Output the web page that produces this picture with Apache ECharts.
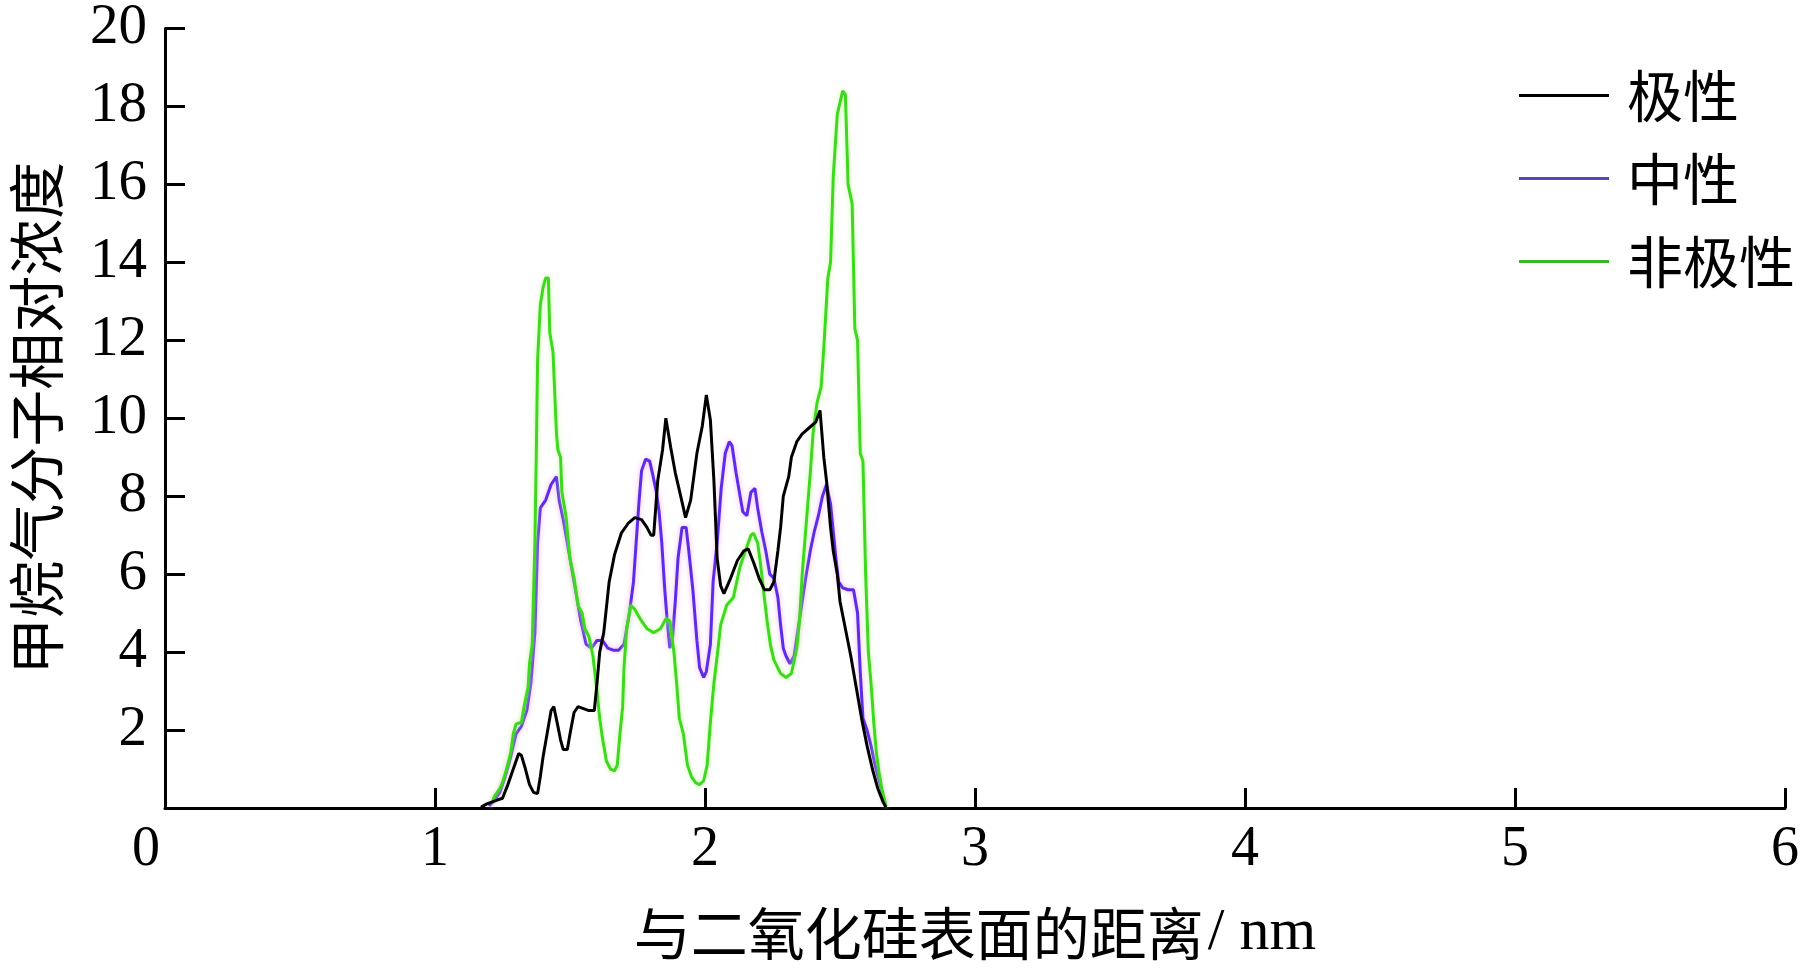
<!DOCTYPE html>
<html>
<head>
<meta charset="utf-8">
<script src="https://cdn.jsdelivr.net/npm/echarts@6/dist/echarts.min.js"></script>
<style>
html,body{margin:0;padding:0;background:#fff;}
#c{width:1802px;height:970px;}
</style>
</head>
<body>
<div id="c"></div>
<script>
// ---- data ----
const seriesNames = ['极性', '中性', '非极性'];
const xTicks = [0, 1, 2, 3, 4, 5, 6];
const yTicks = [2, 4, 6, 8, 10, 12, 14, 16, 18, 20];

const polarData = [
  [1.17,0.02],[1.19,0.1],[1.21,0.15],[1.23,0.2],[1.25,0.25],[1.27,0.6],[1.29,1.0],[1.31,1.4],
  [1.32,1.35],[1.335,1.0],[1.35,0.6],[1.365,0.4],[1.38,0.37],[1.39,0.8],[1.40,1.3],[1.415,1.9],
  [1.43,2.5],[1.44,2.6],[1.455,2.1],[1.465,1.75],[1.475,1.5],[1.49,1.5],[1.50,1.9],[1.515,2.45],
  [1.53,2.6],[1.55,2.55],[1.57,2.5],[1.59,2.5],[1.60,3.2],[1.61,4.0],[1.625,4.5],[1.645,5.8],
  [1.665,6.5],[1.69,7.05],[1.715,7.3],[1.74,7.45],[1.765,7.4],[1.785,7.2],[1.80,7.0],[1.81,7.0],
  [1.825,8.4],[1.843,9.2],[1.855,10.0],[1.873,9.25],[1.89,8.6],[1.91,8.0],[1.928,7.45],[1.947,7.9],
  [1.97,9.1],[1.99,9.8],[2.005,10.6],[2.02,9.95],[2.033,8.4],[2.045,6.4],[2.058,5.7],[2.07,5.5],
  [2.095,5.9],[2.12,6.35],[2.144,6.6],[2.16,6.65],[2.18,6.3],[2.20,5.9],[2.22,5.6],[2.24,5.6],
  [2.255,5.8],[2.27,6.6],[2.28,7.2],[2.29,8.0],[2.31,8.5],[2.32,9.0],[2.34,9.4],[2.36,9.6],
  [2.385,9.75],[2.41,9.9],[2.426,10.2],[2.44,9.0],[2.45,8.4],[2.465,7.2],[2.475,6.6],[2.49,6.0],
  [2.50,5.3],[2.52,4.6],[2.54,3.9],[2.56,3.1],[2.58,2.3],[2.60,1.6],[2.62,1.0],[2.64,0.5],
  [2.66,0.15],[2.67,0.02]
];

const neutralData = [
  [1.20,0.05],[1.22,0.2],[1.24,0.4],[1.26,0.8],[1.28,1.3],[1.30,1.9],[1.32,2.1],[1.34,2.5],
  [1.355,3.2],[1.37,4.5],[1.38,6.8],[1.39,7.7],[1.41,7.9],[1.43,8.3],[1.45,8.5],[1.46,7.9],
  [1.475,7.4],[1.49,6.8],[1.51,6.0],[1.52,5.6],[1.54,4.8],[1.56,4.2],[1.58,4.1],[1.60,4.3],
  [1.62,4.3],[1.64,4.1],[1.66,4.05],[1.68,4.05],[1.70,4.2],[1.72,5.0],[1.735,5.8],[1.745,6.8],
  [1.755,7.8],[1.765,8.65],[1.78,8.95],[1.795,8.9],[1.805,8.6],[1.82,8.1],[1.83,7.6],[1.84,6.8],
  [1.85,5.7],[1.86,4.8],[1.87,4.1],[1.88,4.4],[1.89,5.3],[1.90,6.4],[1.915,7.2],[1.93,7.2],
  [1.94,6.6],[1.955,5.6],[1.97,4.3],[1.98,3.6],[1.995,3.35],[2.005,3.5],[2.02,4.2],[2.03,5.8],
  [2.045,6.8],[2.06,8.2],[2.075,9.1],[2.09,9.4],[2.10,9.3],[2.115,8.6],[2.13,8.0],[2.14,7.6],
  [2.155,7.5],[2.17,8.1],[2.185,8.2],[2.195,7.7],[2.21,7.1],[2.225,6.6],[2.24,6.0],[2.255,5.9],
  [2.27,5.4],[2.28,4.7],[2.29,4.1],[2.30,3.9],[2.315,3.7],[2.33,3.9],[2.345,4.6],[2.36,5.3],
  [2.375,6.0],[2.39,6.6],[2.405,7.1],[2.42,7.5],[2.435,8.0],[2.45,8.3],[2.465,7.8],[2.475,7.1],
  [2.485,6.4],[2.495,5.8],[2.51,5.65],[2.53,5.6],[2.55,5.6],[2.565,5.0],[2.575,3.5],[2.585,2.3],
  [2.60,2.0],[2.615,1.6],[2.63,1.1],[2.645,0.7],[2.66,0.3],[2.67,0.05]
];

const nonpolarData = [
  [1.21,0.1],[1.22,0.3],[1.24,0.5],[1.25,0.65],[1.265,1.0],[1.28,1.4],[1.29,1.9],[1.30,2.15],
  [1.32,2.2],[1.33,2.6],[1.345,3.1],[1.35,3.7],[1.36,4.2],[1.37,6.8],[1.375,9.0],[1.38,11.5],
  [1.39,12.9],[1.40,13.35],[1.41,13.6],[1.42,13.6],[1.425,12.2],[1.437,11.7],[1.45,9.6],[1.455,9.2],
  [1.465,9.0],[1.47,8.1],[1.485,7.5],[1.50,6.4],[1.515,5.9],[1.53,5.2],[1.545,5.0],[1.555,4.6],
  [1.57,4.4],[1.585,3.9],[1.60,3.0],[1.61,2.3],[1.62,1.8],[1.635,1.2],[1.65,1.0],[1.665,0.95],
  [1.675,1.1],[1.685,1.9],[1.695,2.6],[1.70,3.6],[1.71,4.6],[1.725,5.2],[1.74,5.1],[1.76,4.85],
  [1.785,4.6],[1.81,4.5],[1.835,4.6],[1.855,4.85],[1.87,4.8],[1.885,4.0],[1.895,3.2],[1.905,2.3],
  [1.92,1.9],[1.935,1.1],[1.95,0.8],[1.965,0.65],[1.98,0.6],[1.995,0.7],[2.008,1.1],[2.02,2.2],
  [2.033,3.2],[2.045,3.9],[2.058,4.7],[2.08,5.2],[2.105,5.4],[2.13,6.2],[2.155,6.7],[2.17,7.0],
  [2.18,7.05],[2.195,6.8],[2.205,6.3],[2.218,5.5],[2.23,4.8],[2.242,4.2],[2.255,3.8],[2.28,3.45],
  [2.30,3.35],[2.32,3.45],[2.34,4.1],[2.35,4.8],[2.36,6.0],[2.375,7.3],[2.39,8.6],[2.40,9.6],
  [2.415,10.4],[2.43,10.8],[2.44,11.8],[2.455,13.6],[2.465,14.0],[2.475,16.2],[2.49,17.8],[2.50,18.1],
  [2.51,18.4],[2.52,18.3],[2.53,16.0],[2.545,15.5],[2.555,12.3],[2.565,12.0],[2.575,9.1],[2.585,8.9],
  [2.595,6.0],[2.605,4.0],[2.615,3.2],[2.625,2.2],[2.635,1.4],[2.645,0.9],[2.655,0.5],[2.67,0.05]
];

const colors = ['#000000', '#5a2ee6', '#3fd820'];
const legendColors = ['#000000', '#5a46b8', '#3cb52a'];

// ---- chart ----
const serif = "'Liberation Serif','Times New Roman',serif";
const cjk = "'Noto Sans CJK SC','Liberation Serif',serif";
const chart = echarts.init(document.getElementById('c'), null, {renderer: 'canvas'});

const dataSets = [polarData, neutralData, nonpolarData];
const shadows = ['rgba(0,0,0,0)', 'rgba(240,150,240,0.8)', 'rgba(190,255,150,0.9)'];

chart.setOption({
  animation: false,
  backgroundColor: '#fff',
  grid: {left: 162, top: 27, right: 14, bottom: 162, containLabel: false},
  legend: {
    orient: 'vertical',
    left: 1514,
    top: 60,
    itemWidth: 90,
    itemHeight: 3,
    itemGap: 22,
    icon: 'rect',
    data: seriesNames.map((n, i) => ({name: n, itemStyle: {color: legendColors[i]}})),
    textStyle: {fontFamily: cjk, fontSize: 56, lineHeight: 61, color: '#000', padding: [0, 0, 0, 13]}
  },
  xAxis: {
    type: 'value',
    min: xTicks[0],
    max: xTicks[xTicks.length - 1],
    interval: 1,
    name: '{c|与二氧化硅表面的距离}{s|/ nm}',
    nameLocation: 'middle',
    nameGap: 95,
    nameTextStyle: {
      color: '#000',
      rich: {
        c: {fontFamily: cjk, fontSize: 57, color: '#000'},
        s: {fontFamily: serif, fontSize: 60, color: '#000', padding: [0, 0, 0, 4]}
      }
    },
    axisLine: {show: true, lineStyle: {color: '#000', width: 3}},
    axisTick: {show: true, inside: true, length: 20, lineStyle: {color: '#000', width: 3}},
    splitLine: {show: false},
    axisLabel: {
      margin: 14,
      color: '#000',
      fontFamily: serif,
      fontSize: 56,
      formatter: v => v === 0 ? '{z|0}' : String(v),
      rich: {z: {fontFamily: serif, fontSize: 56, color: '#000', padding: [0, 38, 0, 0]}}
    }
  },
  yAxis: {
    type: 'value',
    min: 0,
    max: yTicks[yTicks.length - 1],
    interval: 2,
    name: '甲烷气分子相对浓度',
    nameLocation: 'middle',
    nameRotate: 90,
    nameGap: 100,
    nameTextStyle: {fontFamily: cjk, fontSize: 57, color: '#000'},
    axisLine: {show: true, lineStyle: {color: '#000', width: 3}},
    axisTick: {show: true, inside: true, length: 20, lineStyle: {color: '#000', width: 3}},
    splitLine: {show: false},
    axisLabel: {
      margin: 18,
      color: '#000',
      fontFamily: serif,
      fontSize: 57,
      formatter: v => (yTicks.indexOf(v) >= 0 ? String(v) : '')
    }
  },
  series: seriesNames.map((n, i) => ({
    name: n,
    type: 'line',
    data: dataSets[i],
    showSymbol: false,
    symbol: 'none',
    color: legendColors[i],
    lineStyle: {color: colors[i], width: 3, shadowColor: shadows[i], shadowBlur: i === 0 ? 0 : 5},
    z: i === 0 ? 4 : 3
  }))
});
</script>
</body>
</html>
